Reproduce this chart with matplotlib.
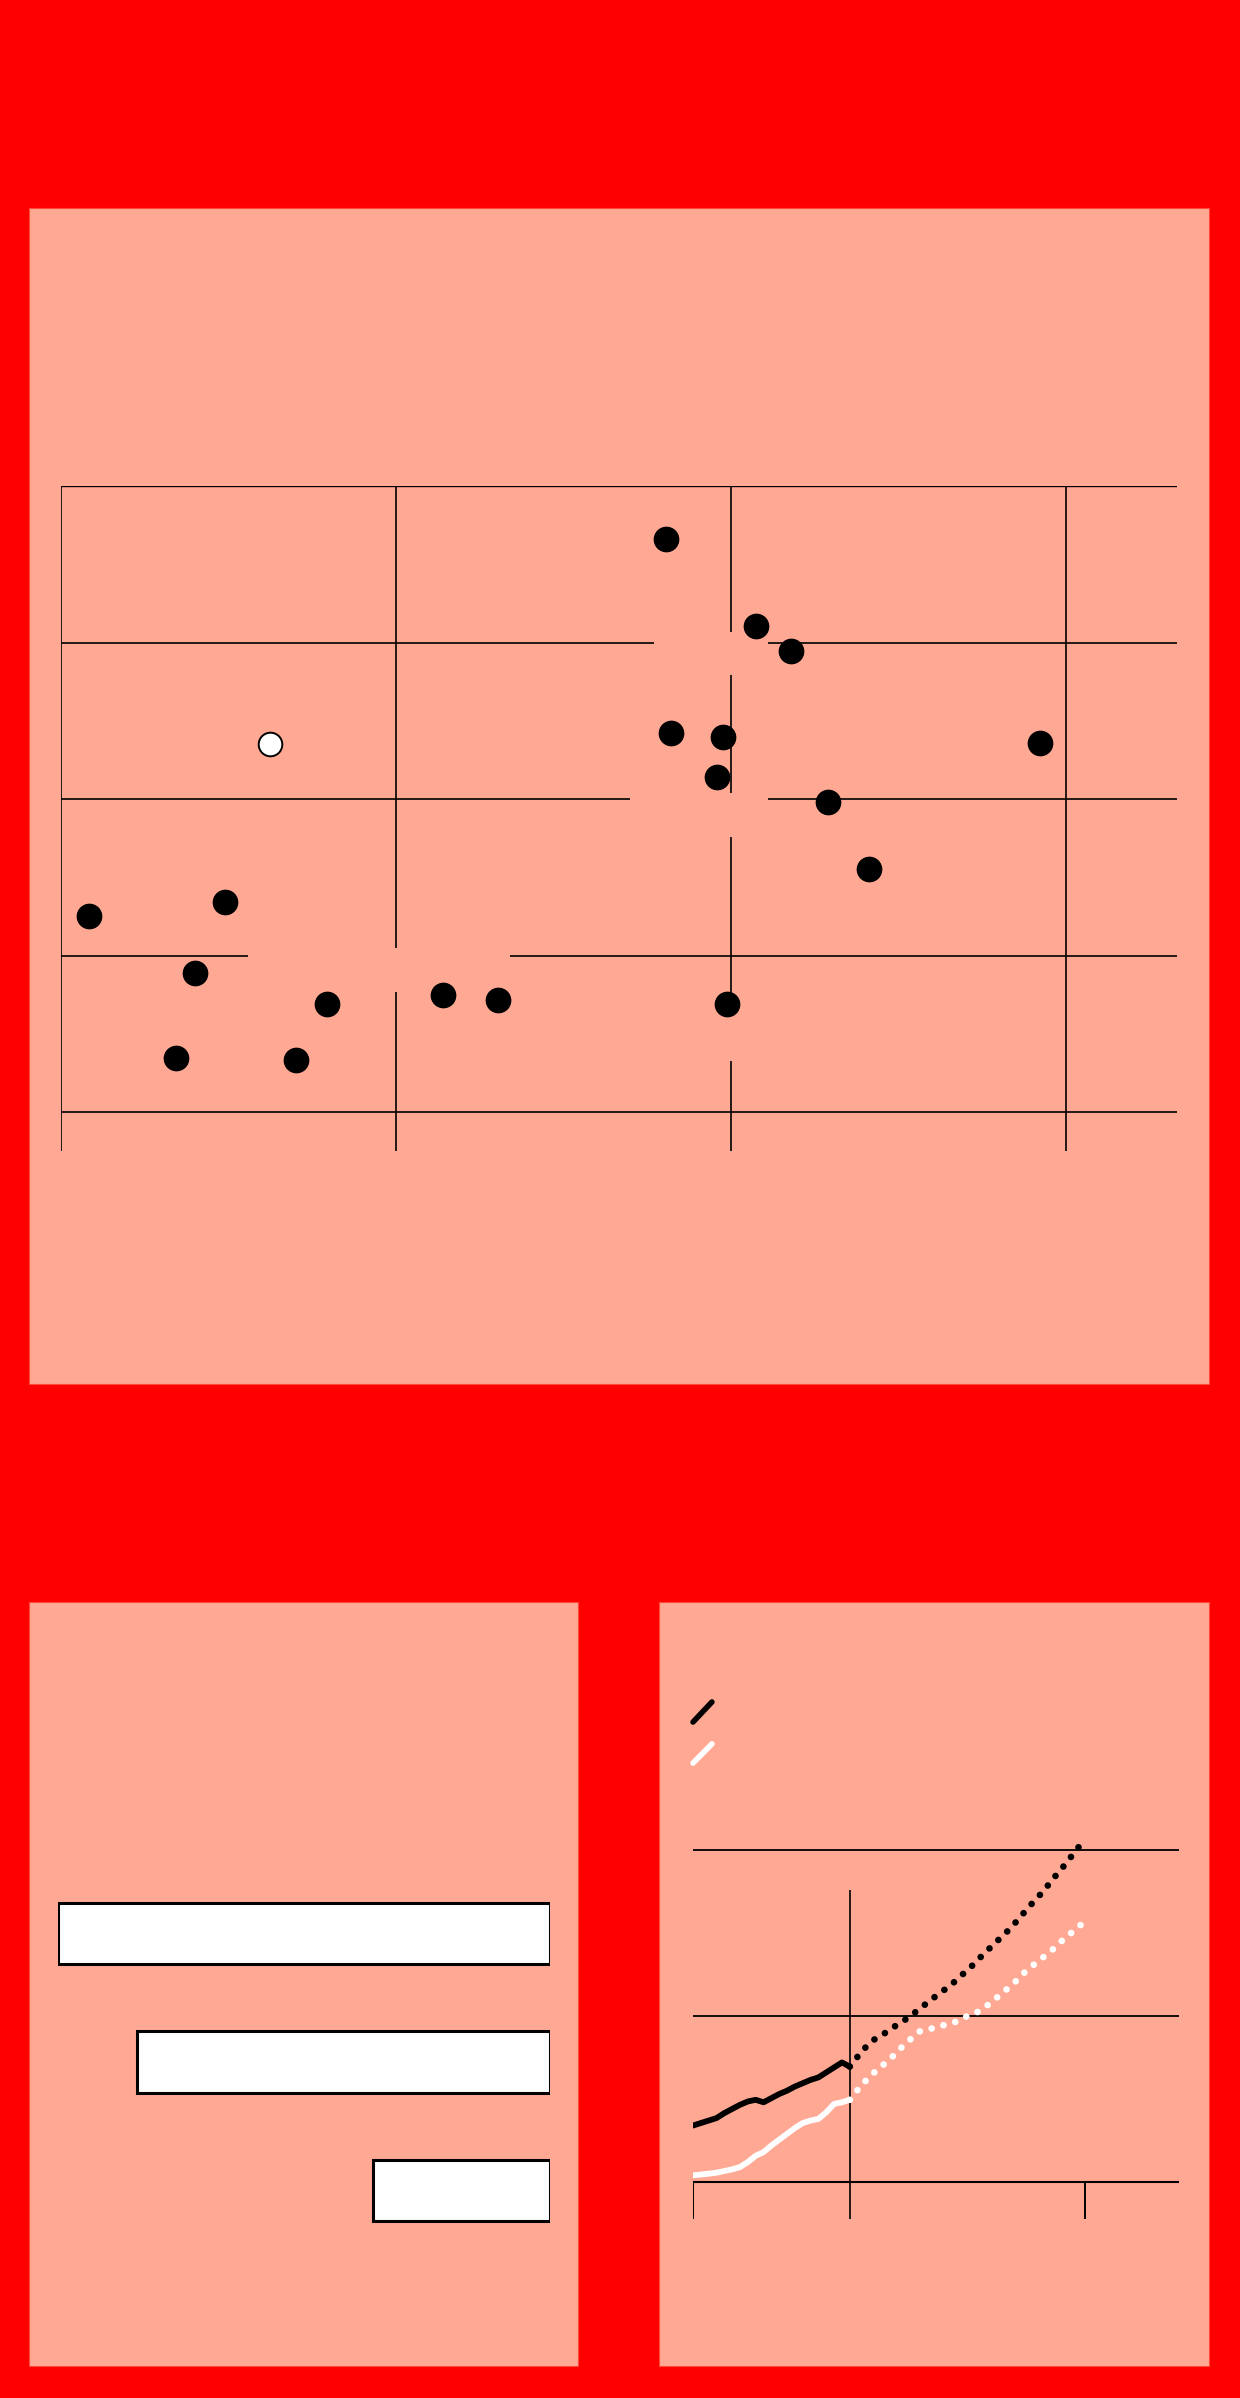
import matplotlib
matplotlib.use('Agg')
import matplotlib.pyplot as plt
from matplotlib.patches import Rectangle

# Colours
RED = '#ff0000'
PANEL = '#ffa994'

# Top panel: scatter
scatter_x_ticks = [0, 10, 20, 30]
scatter_y_ticks = [0, 10, 20, 30, 40]
black_x = [0.86, 4.91, 4.02, 7.96, 3.45, 7.04, 11.42, 13.04, 18.05, 20.76,
           21.79, 18.22, 19.77, 19.60, 22.89, 29.22, 24.12, 19.87]
black_y = [12.55, 13.41, 8.88, 6.93, 3.49, 3.34, 7.47, 7.15, 36.63, 31.07,
           29.44, 24.20, 23.98, 21.39, 19.83, 23.56, 15.52, 6.93]
white_x = [6.24]
white_y = [23.50]
# hidden label boxes (x0, x1, y0, y1) in data units
label_boxes = [(17.7, 21.1, 27.9, 30.7), (17.0, 21.1, 17.6, 20.4),
               (5.6, 13.4, 7.7, 10.5), (18.5, 21.5, 3.3, 6.5)]

# Bottom-left panel: horizontal bars
bar_values = [100, 84, 36]

# Bottom-right panel: lines
hist_years = list(range(2000, 2021))
hist_black = [0.34, 0.355, 0.37, 0.385, 0.415, 0.44, 0.465, 0.485, 0.495, 0.48, 0.505,
              0.53, 0.55, 0.575, 0.595, 0.615, 0.63, 0.66, 0.69, 0.72, 0.695]
hist_white = [0.04, 0.045, 0.05, 0.056, 0.066, 0.076, 0.09, 0.12, 0.158, 0.18, 0.22,
              0.255, 0.29, 0.325, 0.355, 0.37, 0.38, 0.42, 0.47, 0.48, 0.495]
proj_years = list(range(2020, 2051))
proj_black = [0.695, 0.755, 0.81, 0.855, 0.88, 0.915, 0.945, 0.975, 1.01, 1.045, 1.085,
              1.12, 1.155, 1.19, 1.235, 1.275, 1.32, 1.37, 1.415, 1.46, 1.505,
              1.555, 1.61, 1.665, 1.715, 1.77, 1.83, 1.885, 1.945, 2.005, 2.07]
proj_white = [0.495, 0.555, 0.608, 0.655, 0.695, 0.735, 0.78, 0.83, 0.87, 0.91, 0.92,
              0.93, 0.945, 0.955, 0.975, 1.0, 1.015, 1.045, 1.08, 1.12, 1.16,
              1.2, 1.25, 1.29, 1.33, 1.365, 1.405, 1.45, 1.49, 1.53, 1.57]
line_y_ticks = [0, 1, 2]
line_x_ticks = [2000, 2050]
divider_year = 2020

W, H = 1240, 2398
fig = plt.figure(figsize=(W / 100, H / 100), dpi=100, facecolor=RED)


def px_axes(x0, y0, x1, y1):
    ax = fig.add_axes([x0 / W, 1 - y1 / H, (x1 - x0) / W, (y1 - y0) / H])
    ax.axis('off')
    return ax


def panel(x0, y0, x1, y1):
    fig.add_artist(Rectangle((x0 / W, 1 - y1 / H), (x1 - x0) / W, (y1 - y0) / H,
                             transform=fig.transFigure, facecolor=PANEL,
                             edgecolor='#ff4a3a', linewidth=0.8, zorder=0))


panel(29, 208, 1209, 1384)
panel(29, 1602, 578, 2366)
panel(659, 1602, 1209, 2366)

# ---- scatter ----
ax = px_axes(60.5, 486, 1177, 1151)
ax.set_xlim(0, 33.31)
ax.set_ylim(-2.47, 40)
ax.hlines(scatter_y_ticks, 0, 33.31, color='black', linewidth=1.2, zorder=1)
ax.hlines([40], 0, 33.31, color='black', linewidth=1.7, zorder=1)
ax.vlines(scatter_x_ticks, -2.47, 40, color='black', linewidth=1.2, zorder=1)
for x0, x1, y0, y1 in label_boxes:
    ax.add_patch(Rectangle((x0, y0), x1 - x0, y1 - y0, facecolor=PANEL,
                           edgecolor='none', zorder=2))
ax.plot(black_x, black_y, 'o', color='black', markersize=17.5, zorder=3)
ax.plot(white_x, white_y, 'o', markerfacecolor='white', markeredgecolor='black',
        markeredgewidth=1.4, markersize=17, zorder=3)

# ---- bars ----
ax2 = px_axes(58, 1880, 550, 2240)
ax2.set_xlim(100, 0)
ax2.set_ylim(2.385, -0.416)
ax2.barh(range(len(bar_values)), bar_values, height=0.475, color='white',
         edgecolor='black', linewidth=2.2)

# ---- lines ----
ax3 = px_axes(693, 1800, 1179, 2219)
ax3.set_xlim(2000, 2062)
ax3.set_ylim(-0.223, 2.301)
ax3.hlines(line_y_ticks[1:], 2000, 2062, color='black', linewidth=1.3, zorder=1)
ax3.hlines([0], 2000, 2062, color='black', linewidth=1.5, zorder=1)
ax3.vlines(line_x_ticks, -0.223, 0, color='black', linewidth=1.4, zorder=1)
ax3.vlines([divider_year], -0.223, 1.76, color='black', linewidth=1.2, zorder=1)
ax3.plot(hist_years, hist_black, color='black', linewidth=4.2,
         solid_capstyle='round', solid_joinstyle='round', zorder=3)
ax3.plot(hist_years, hist_white, color='white', linewidth=4.2,
         solid_capstyle='round', solid_joinstyle='round', zorder=3)
ax3.plot(proj_years, proj_black, color='black', linewidth=4.8,
         linestyle=(0, (0.01, 1.83)), dash_capstyle='round', clip_on=False, zorder=3)
ax3.plot(proj_years, proj_white, color='white', linewidth=4.8,
         linestyle=(0, (0.01, 1.83)), dash_capstyle='round', clip_on=False, zorder=3)
# legend swatches
ax3.plot([0.0, 0.039], [1.186, 1.234], transform=ax3.transAxes, color='black',
         linewidth=4.0, solid_capstyle='round', clip_on=False)
ax3.plot([0.0, 0.039], [1.088, 1.134], transform=ax3.transAxes, color='white',
         linewidth=4.0, solid_capstyle='round', clip_on=False)

fig.savefig('out.png', dpi=100, facecolor=RED)
